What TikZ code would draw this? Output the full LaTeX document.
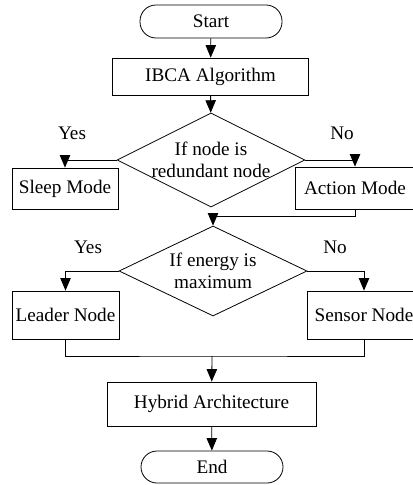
\documentclass[tikz,border=0pt]{standalone}
\usepackage{fontspec}
\setmainfont{Liberation Serif}
\usepackage{tikz}
\usetikzlibrary{arrows, shapes.geometric, calc, positioning}
\tikzset{
    flowTerm/.style={rectangle, rounded corners=8pt, draw, thin, minimum width=71pt, minimum height=16.5pt, inner sep=1pt},
    flowBox/.style={rectangle, draw, thin, minimum height=20.5pt, inner sep=1pt},
    flowDecision/.style={diamond, draw, thin, minimum width=94pt, minimum height=46pt, inner sep=0pt},
    flowEdge/.style={->, >=triangle 45, thin},
    flowLine/.style={thin},
    flowText/.style={font=\fontsize{9.6}{11}\selectfont},
}
\newcommand{\drawFlow}[2]{
    \draw[flowEdge] (#1) -- (#2);
}

\begin{document}
\begin{tikzpicture}[x=0.5pt, y=0.5pt, flowText, every label/.style={flowText, align=center}]

    \useasboundingbox (0,0) rectangle (412,-485);

    % main column
    \node[flowTerm] (start) at (211,-21.5) {Start};
    \node[flowBox, minimum width=98pt, minimum height=18.5pt] (ibca) at (210.5,-76.5) {IBCA Algorithm};
    \node[flowDecision, minimum height=47pt, label={center:If node is\\redundant node}] (dec1) at (211,-160) {};

    % first branch
    \node[flowBox, minimum width=53pt] (sleep) at (65,-188.5) {Sleep Mode};
    \node[flowBox, minimum width=60pt, minimum height=21pt] (action) at (355,-188) {Action Mode};
    \node at (72,-133) (yes1) {Yes};
    \node at (342,-133) (no1) {No};

    \coordinate (j1) at (213,-216);
    \node[flowDecision, minimum height=45pt, label={center:If energy is\\maximum}] (dec2) at (213,-271) {};

    % second branch
    \node[flowBox, minimum width=53.5pt, minimum height=24pt] (leader) at (65.5,-315) {Leader Node};
    \node[flowBox, minimum width=57pt, minimum height=24pt] (sensor) at (364,-315) {Sensor Node};
    \node at (88,-247) (yes2) {Yes};
    \node at (335,-247) (no2) {No};

    \coordinate (j2) at (212,-356);
    \node[flowBox, minimum width=104.5pt, minimum height=22pt] (hybrid) at (211.5,-404) {Hybrid Architecture};
    \node[flowTerm, minimum height=16pt] (end) at (212,-467) {End};

    \drawFlow{start}{ibca}
    \drawFlow{ibca}{dec1}
    \draw[flowEdge] (dec1.west) -| (sleep.north);
    \draw[flowEdge] (dec1.east) -| (action.north);
    \draw[flowLine] (action.south) |- (j1);
    \drawFlow{j1}{dec2.north}
    \draw[flowEdge] (dec2.west) -| (leader.north);
    \draw[flowEdge] (dec2.east) -| (sensor.north);
    \draw[flowLine] (leader.south) |- (j2) -| (sensor.south);
    \drawFlow{j2}{hybrid}
    \drawFlow{hybrid}{end}

\end{tikzpicture}
\end{document}
